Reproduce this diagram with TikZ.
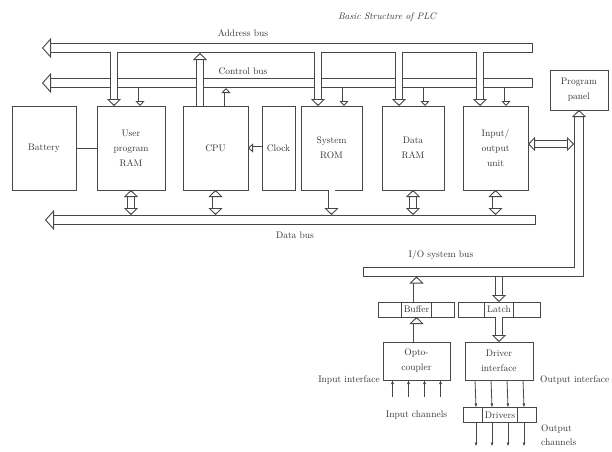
\documentclass[tikz,border=0pt]{standalone}
\usepackage{tikz}
\usetikzlibrary{positioning, arrows.meta, shapes.multipart}
\colorlet{lngray}{black!72}
\colorlet{txtgray}{black!80}
\tikzset{
  >={Latex[length=4pt,width=3pt]}, % small filled heads for the thin channel arrows
  bush/.tip={Triangle[fill=white,length=9pt,width=20pt,line width=0.9pt]},
  taph/.tip={Triangle[fill=white,length=7pt,width=14pt,line width=0.9pt]},
  ctaph/.tip={Triangle[fill=white,length=5pt,width=9pt,line width=0.9pt]},
  blk/.style={draw=lngray,line width=0.9pt,minimum height=84pt,align=center,outer sep=0pt,inner sep=1pt,text=txtgray,font=\fontsize{9.5}{15}\selectfont},
  reg/.style={rectangle split,rectangle split horizontal,rectangle split parts=3,draw=lngray,line width=0.9pt,minimum height=15pt,inner xsep=2pt,inner ysep=2pt,outer sep=0pt,text=txtgray,font=\fontsize{9.5}{11}\selectfont},
  bus/.style={draw=lngray,line width=0.9pt,double=white,double distance=8pt},
  tap/.style={bus,double distance=6pt},
  ctap/.style={bus,double distance=3pt},
  businner/.style={white,line width=8pt},
  busend/.style={draw=lngray,line width=0.9pt},
  chan/.style={draw=lngray,line width=0.8pt},
  lbl/.style={text=txtgray,font=\fontsize{9.5}{14}\selectfont,inner sep=1pt}
}

\begin{document}
\begin{tikzpicture}[x=1pt, y=1pt]
  \useasboundingbox (0,0) rectangle (612,451);

  % Title
  \node[lbl, font=\fontsize{9.5}{11}\selectfont\itshape] (title) at (387,434) {Basic Structure of PLC};

  % Main board
  \node[blk, minimum width=64pt] (bat) at (44,303) {Battery};
  \node[blk, minimum width=68pt, right=21pt of bat] (uram) {User\\program\\RAM};
  \node[blk, minimum width=65pt, right=18pt of uram] (cpu) {CPU};
  \node[blk, minimum width=33pt, right=14pt of cpu] (clk) {Clock};
  \node[blk, minimum width=61pt, right=6pt of clk] (srom) {System\\ROM};
  \node[blk, minimum width=62pt, right=20pt of srom] (dram) {Data\\RAM};
  \node[blk, minimum width=65pt, right=19pt of dram] (iou) {Input/\\output\\unit};
  \node[blk, minimum width=58pt, minimum height=40pt] (pp) at (579,361) {Program\\panel};

  % I/O side
  \node[reg, rectangle split empty part width=14pt] (buf) at (416.5,141.5) {\nodepart{two}Buffer\nodepart{three}};
  \node[reg, rectangle split empty part width=18pt] (lat) at (499,141.5) {\nodepart{two}Latch\nodepart{three}};
  \node[blk, minimum width=67pt, minimum height=38pt] (opto) at (416.5,90) {Opto-\\coupler};
  \node[blk, minimum width=68pt, minimum height=38pt] (drv) at (499,90) {Driver\\interface};
  \node[reg, rectangle split empty part width=10pt] (drs) at (500,36) {\nodepart{two}Drivers\nodepart{three}};

  % Bus ends and edges
  \coordinate (abus) at (42,403);   \coordinate (abusR) at (532,403); \coordinate (abus-b) at (0,398);
  \coordinate (cbus) at (42,368);   \coordinate (cbusR) at (532,368); \coordinate (cbus-b) at (0,363);
  \coordinate (dbus) at (45,231);   \coordinate (dbusR) at (535,231); \coordinate (dbus-t) at (0,236);
  \coordinate (iobus) at (363,179); \coordinate (iobus-b) at (0,174.5);
  \coordinate (iocorner) at (pp.south |- iobus);
  \coordinate (iov) at (574,307);

  % Buses
  \draw[bus, bush-] (abus) -- (abusR);
  \draw[bus, bush-] (cbus) -- (cbusR);
  \draw[bus, bush-] (dbus) -- (dbusR);
  \draw[bus, -taph] (iobus) -- (iocorner) -- (pp.south);
  \foreach \e in {abusR,cbusR,dbusR,iobus}
    \draw[busend] ([yshift=-4.9pt]\e) -- ([yshift=4.9pt]\e);

  % Tap points on the block tops
  \foreach \b in {uram,cpu,srom,dram,iou}{
    \coordinate (\b-a) at ([xshift=17pt]\b.north west);
    \coordinate (\b-c) at ([xshift=43pt]\b.north west);
  }

  % Address bus
  \foreach \b in {uram,srom,dram,iou}
    \draw[tap, -taph] (\b-a |- abus) -- (\b-a);
  \draw[tap, -taph] (cpu-a) -- (cpu-a |- abus-b);
  \draw[businner] ([xshift=20pt]abus) -- ([xshift=-2pt]abusR);

  % Control bus
  \foreach \b in {uram,srom,dram,iou}
    \draw[ctap, -ctaph] (\b-c |- cbus-b) -- (\b-c);
  \draw[ctap, -ctaph] (cpu-c) -- (cpu-c |- cbus-b);

  % Data bus
  \foreach \b in {uram,cpu,dram,iou}
    \draw[tap, taph-taph] (\b.south) -- (\b.south |- dbus-t);
  \draw[tap, -taph] (srom.south) -- (srom.south |- dbus-t);

  % Other links
  \draw[chan] (bat) -- (uram);
  \draw[ctap, -ctaph] (clk) -- (cpu);
  \draw[tap, taph-taph] ([yshift=4pt]iou.east) -- (iov);
  \draw[tap, -taph] (buf.north) -- (buf.north |- iobus-b);
  \draw[tap, -taph] (lat.north |- iobus-b) -- (lat.north);
  \draw[tap, -taph] (opto) -- (buf);
  \draw[tap, -taph] (lat) -- (drv);

  % Channels
  \foreach \x in {-24,-8,8,24}{
    \draw[chan, <-] ([xshift=\x pt]opto.south) -- ++(0,-17pt);
    \draw[chan, ->] ([xshift=\x pt]drv.south) -- ([xshift=\x pt]drs.north);
    \draw[chan, ->] ([xshift=\x pt]drs.south) -- ++(0,-24pt);
  }

  % Labels
  \node[lbl] (alab) at (243,418) {Address bus};
  \node[lbl] (clab) at (243,380) {Control bus};
  \node[lbl] (dlab) at (295,216) {Data bus};
  \node[lbl] (iolab) at (441,196) {I/O system bus};
  \node[lbl, left=2pt of opto.south west] (inif) {Input interface};
  \node[lbl, right=6pt of drv.south east] (outif) {Output interface};
  \node[lbl, below=30pt of opto] (inch) {Input channels};
  \node[lbl, align=left, anchor=west] (outch) at (540,16) {Output\\channels};

\end{tikzpicture}
\end{document}
